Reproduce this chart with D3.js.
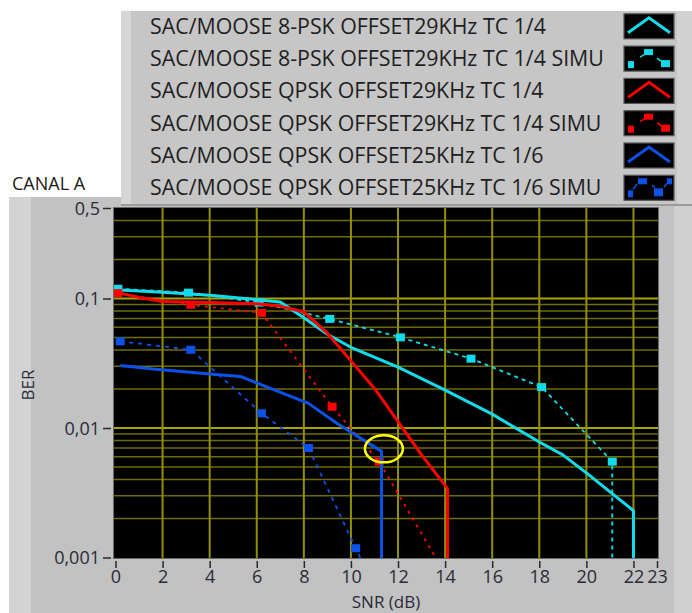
<!DOCTYPE html>
<html>
<head>
<meta charset="utf-8">
<script src="https://cdn.jsdelivr.net/npm/d3@7"></script>
<style>
  html, body { margin: 0; padding: 0; background: #ffffff; }
  svg { display: block; }
  text { font-family: "Open Sans", "Noto Sans", sans-serif; }
</style>
</head>
<body>
<svg id="chart" width="692" height="613"></svg>
<script>
// ---------- data ----------
const legendLabels = [
  "SAC/MOOSE 8-PSK OFFSET29KHz TC 1/4",
  "SAC/MOOSE 8-PSK OFFSET29KHz TC 1/4 SIMU",
  "SAC/MOOSE QPSK OFFSET29KHz TC 1/4",
  "SAC/MOOSE QPSK OFFSET29KHz TC 1/4 SIMU",
  "SAC/MOOSE QPSK OFFSET25KHz TC 1/6",
  "SAC/MOOSE QPSK OFFSET25KHz TC 1/6 SIMU"
];
const seriesColors = ["#12dcec", "#12dcec", "#ff0000", "#ff0000", "#0a52e8", "#0a52e8"];

const cyanX = [0, 2, 4, 6, 7, 8, 9, 10, 12, 14, 16, 18, 19, 20, 22, 22];
const cyanY = [0.117, 0.112, 0.106, 0.098, 0.094, 0.071, 0.053, 0.042, 0.0295, 0.0196, 0.0128, 0.0078, 0.0062, 0.0045, 0.0023, 0.0005];

const cyanSimX = [0.1, 3.1, 6.1, 9.1, 12.1, 15.1, 18.1, 21.1, 21.1];
const cyanSimY = [0.119, 0.111, 0.093, 0.0696, 0.0501, 0.0343, 0.0207, 0.0055, 0.0005];

const redX = [0, 1, 2, 4, 6, 7, 8, 9, 10, 11, 12, 13, 14.1, 14.1];
const redY = [0.112, 0.102, 0.095, 0.093, 0.091, 0.087, 0.079, 0.054, 0.033, 0.0202, 0.0112, 0.0062, 0.0034, 0.0005];

const redSimX = [0.1, 3.2, 6.2, 9.2, 11.2, 14.2];
const redSimY = [0.110, 0.0894, 0.0775, 0.0146, 0.0055, 0.00065];

const blueX = [0.2, 1.6, 4, 5.3, 8.2, 9.4, 11.3, 11.3];
const blueY = [0.0304, 0.0285, 0.0261, 0.025, 0.0155, 0.0109, 0.0066, 0.0005];

const blueSimX = [0.2, 3.2, 6.2, 8.2, 10.2, 11.2];
const blueSimY = [0.0467, 0.0402, 0.013, 0.0070, 0.00118, 0.0005];

const xTicks = [0, 2, 4, 6, 8, 10, 12, 14, 16, 18, 20, 22, 23];
const xGrid = [2, 4, 6, 8, 10, 12, 14, 16, 18, 20, 22];
const yTicks = [0.5, 0.1, 0.01, 0.001];
const yMinorGrid = [0.4, 0.3, 0.2, 0.09, 0.08, 0.07, 0.06, 0.05, 0.04, 0.03, 0.02,
                    0.009, 0.008, 0.007, 0.006, 0.005, 0.004, 0.003, 0.002];
const yMajorGrid = [0.1, 0.01];
const circleMark = {x: 11.4, y: 0.0069};

// ---------- layout ----------
const svg = d3.select("#chart");
const P = {left: 114, right: 658, top: 208, bottom: 558};
const x = d3.scaleLinear().domain([0, 23]).range([115.5, 657]);
const y = d3.scaleLog().domain([0.001, 0.5]).range([557.5, 208]);

// panel background
svg.append("rect").attr("x", 9).attr("y", 197).attr("width", 683).attr("height", 416).attr("fill", "#c2c2c2");
svg.append("rect").attr("x", 9).attr("y", 197).attr("width", 22).attr("height", 416).attr("fill", "#d3d3d3");
svg.append("rect").attr("x", 674).attr("y", 197).attr("width", 18).attr("height", 416).attr("fill", "#cfcfcf");

// "CANAL A"
svg.append("text").attr("x", 12).attr("y", 190).attr("font-size", 18).attr("fill", "#1a1a1a").text("CANAL A");

// plot area
svg.append("rect").attr("x", P.left).attr("y", P.top).attr("width", P.right - P.left).attr("height", P.bottom - P.top)
  .attr("fill", "#000000");

// grid
const grid = svg.append("g");
grid.selectAll(".hmin").data(yMinorGrid).join("line")
  .attr("x1", P.left).attr("x2", P.right)
  .attr("y1", d => y(d)).attr("y2", d => y(d))
  .attr("stroke", "#6f6c00").attr("stroke-width", 1.5);
grid.selectAll(".hmaj").data(yMajorGrid).join("line")
  .attr("x1", P.left).attr("x2", P.right)
  .attr("y1", d => y(d)).attr("y2", d => y(d))
  .attr("stroke", "#a8a400").attr("stroke-width", 2);
grid.selectAll(".v").data(xGrid).join("line")
  .attr("x1", d => x(d)).attr("x2", d => x(d))
  .attr("y1", P.top).attr("y2", P.bottom)
  .attr("stroke", "#928f00").attr("stroke-width", 2);

// frame
svg.append("rect").attr("x", P.left - 0.5).attr("y", P.top - 0.5).attr("width", P.right - P.left + 1).attr("height", P.bottom - P.top + 1)
  .attr("fill", "none").attr("stroke", "#6a6a6a").attr("stroke-width", 1);

// clip
svg.append("defs").append("clipPath").attr("id", "clip")
  .append("rect").attr("x", P.left).attr("y", P.top).attr("width", P.right - P.left).attr("height", P.bottom - P.top);
const plot = svg.append("g").attr("clip-path", "url(#clip)");

const line = d3.line().x(d => x(d[0])).y(d => y(d[1]));
function zip(a, b) { return a.map((v, i) => [v, b[i]]); }

const series = [
  {pts: zip(cyanX, cyanY), color: seriesColors[0], sim: false},
  {pts: zip(cyanSimX, cyanSimY), color: seriesColors[1], sim: true, dash: "4,4"},
  {pts: zip(redX, redY), color: seriesColors[2], sim: false},
  {pts: zip(redSimX, redSimY), color: seriesColors[3], sim: true, dash: "3,5"},
  {pts: zip(blueX, blueY), color: seriesColors[4], sim: false},
  {pts: zip(blueSimX, blueSimY), color: seriesColors[5], sim: true, dash: "4,5"}
];

series.forEach(s => {
  plot.append("path").datum(s.pts)
    .attr("d", line)
    .attr("fill", "none")
    .attr("stroke", s.color)
    .attr("stroke-width", s.sim ? 1.8 : 3)
    .attr("stroke-dasharray", s.sim ? s.dash : null)
    .attr("stroke-linejoin", "round");
  if (s.sim) {
    plot.selectAll(null).data(s.pts.filter(d => d[1] >= 0.001)).join("rect")
      .attr("x", d => x(d[0]) - 4.5).attr("y", d => y(d[1]) - 4)
      .attr("width", 9).attr("height", 8)
      .attr("fill", s.color);
  }
});

// yellow circle annotation
plot.append("ellipse")
  .attr("cx", x(circleMark.x)).attr("cy", y(circleMark.y))
  .attr("rx", 19).attr("ry", 13.5)
  .attr("fill", "none").attr("stroke", "#ffff00").attr("stroke-width", 2.5);

// axes
const fmt = d => String(d).replace(".", ",");
const yAxis = svg.append("g").attr("transform", "translate(111,0)")
  .call(d3.axisLeft(y).tickValues(yTicks).tickFormat(fmt).tickSize(8).tickPadding(3));
const xAxis = svg.append("g").attr("transform", "translate(0,561)")
  .call(d3.axisBottom(x).tickValues(xTicks).tickFormat(d3.format("d")).tickSize(7).tickPadding(2));
[yAxis, xAxis].forEach(g => {
  g.select(".domain").remove();
  g.selectAll(".tick line").attr("stroke", "#2a2a2a").attr("stroke-width", 1.5);
  g.selectAll(".tick text").attr("font-size", 18).attr("fill", "#2a2a38")
    .attr("font-family", "'Open Sans', 'Noto Sans', sans-serif");
});
yAxis.selectAll(".tick text").attr("dy", "0.35em");
xAxis.selectAll(".tick text").attr("dy", "0.71em");

svg.append("text").attr("x", (P.left + P.right) / 2).attr("y", 608)
  .attr("text-anchor", "middle").attr("font-size", 17).attr("fill", "#2a2a38").text("SNR (dB)");
svg.append("text").attr("transform", "translate(34,385) rotate(-90)")
  .attr("text-anchor", "middle").attr("font-size", 17).attr("fill", "#2a2a38").text("BER");

// ---------- legend ----------
const L = {x: 121, y: 11, w: 571, h: 193, rowStart: 26.3, rowStep: 32.3};
svg.append("rect").attr("x", L.x).attr("y", L.y + 2).attr("width", L.w).attr("height", L.h).attr("fill", "#9c9c9c");
svg.append("rect").attr("x", L.x).attr("y", L.y).attr("width", L.w).attr("height", L.h).attr("fill", "#c6c6c6");
svg.append("rect").attr("x", L.x).attr("y", L.y).attr("width", 10).attr("height", L.h).attr("fill", "#d6d6d6");
svg.append("rect").attr("x", 677).attr("y", L.y).attr("width", 15).attr("height", L.h).attr("fill", "#d2d2d2");

const rows = svg.append("g").selectAll("g").data(legendLabels).join("g")
  .attr("transform", (d, i) => `translate(0,${L.rowStart + i * L.rowStep})`);
const texts = rows.append("text").attr("x", 150).attr("y", 0).attr("dy", "0.35em")
  .attr("font-size", 19).attr("fill", "#1e1e1e").text(d => d);
// fit font size so the first label spans ~396px as in the reference
const w0 = texts.node().getComputedTextLength();
if (w0 > 0) {
  const fs = 19 * 396 / w0;
  texts.attr("font-size", fs.toFixed(2));
}

// swatches
rows.each(function(d, i) {
  const g = d3.select(this);
  const sx = 624, sw = 50, sh = 25, sy = -12.5;
  const c = seriesColors[i];
  g.append("rect").attr("x", sx).attr("y", sy).attr("width", sw).attr("height", sh)
    .attr("fill", "#000").attr("stroke", "#555").attr("stroke-width", 1.2);
  if (i % 2 === 0) {
    g.append("path").attr("d", `M${sx + 4},${sy + 19} L${sx + 25},${sy + 4} L${sx + 46},${sy + 19}`)
      .attr("fill", "none").attr("stroke", c).attr("stroke-width", 3);
  } else if (i < 5) {
    g.append("path").attr("d", `M${sx + 16},${sy + 11} L${sx + 21},${sy + 8} M${sx + 33},${sy + 12} L${sx + 37},${sy + 15}`)
      .attr("fill", "none").attr("stroke", c).attr("stroke-width", 1.5);
    g.append("rect").attr("x", sx + 4).attr("y", sy + 15).attr("width", 6).attr("height", 7).attr("fill", c);
    g.append("rect").attr("x", sx + 20).attr("y", sy + 3).attr("width", 9).attr("height", 6).attr("fill", c);
    g.append("rect").attr("x", sx + 37).attr("y", sy + 14).attr("width", 9).attr("height", 7).attr("fill", c);
  } else {
    g.append("path").attr("d", `M${sx + 9},${sy + 14} L${sx + 13},${sy + 9} M${sx + 28},${sy + 10} L${sx + 31},${sy + 12} M${sx + 40},${sy + 12} L${sx + 43},${sy + 8}`)
      .attr("fill", "none").attr("stroke", c).attr("stroke-width", 1.5);
    g.append("rect").attr("x", sx + 4).attr("y", sy + 15).attr("width", 5).attr("height", 7).attr("fill", c);
    g.append("rect").attr("x", sx + 14).attr("y", sy + 3).attr("width", 9).attr("height", 6).attr("fill", c);
    g.append("rect").attr("x", sx + 30).attr("y", sy + 13).attr("width", 9).attr("height", 8).attr("fill", c);
    g.append("rect").attr("x", sx + 43).attr("y", sy + 3).attr("width", 5).attr("height", 6).attr("fill", c);
  }
});
</script>
</body>
</html>
